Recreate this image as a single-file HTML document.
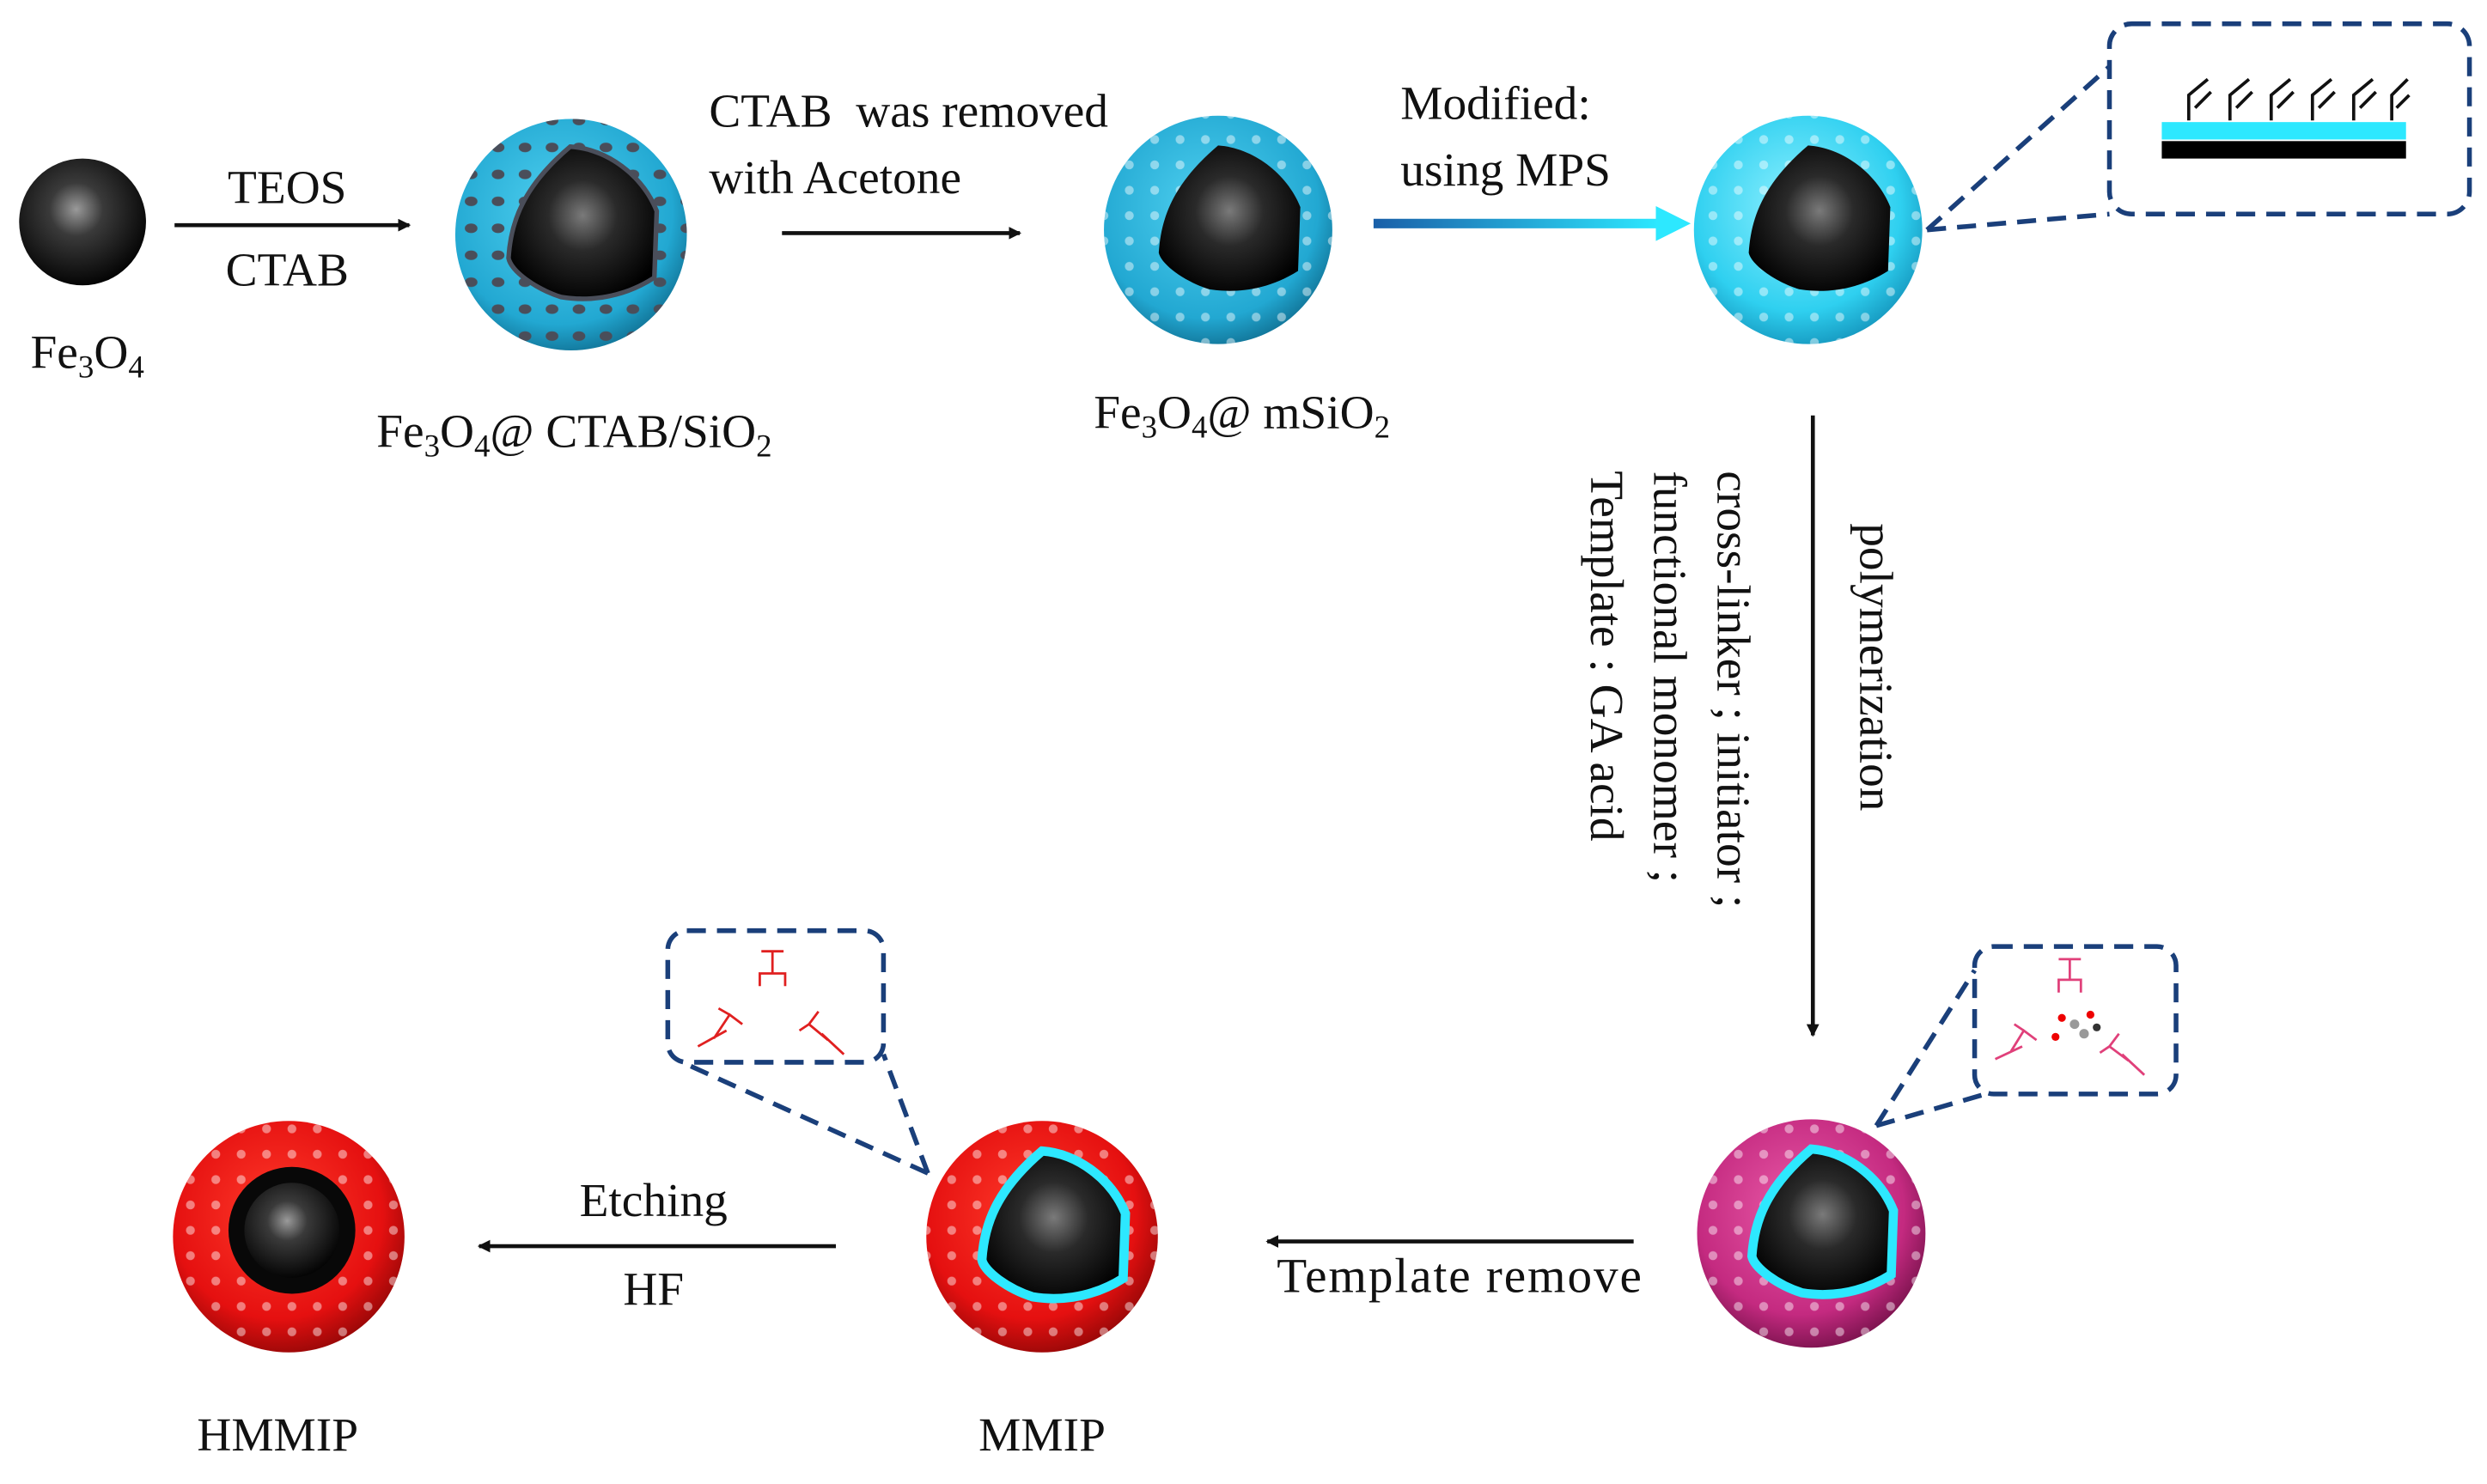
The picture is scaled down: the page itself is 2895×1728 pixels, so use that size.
<!DOCTYPE html>
<html><head><meta charset="utf-8"><style>
html,body{margin:0;padding:0;background:#fff;}
svg{display:block;}
text{font-family:"Liberation Serif",serif;fill:#111;}
</style></head><body>
<svg width="2895" height="1728" viewBox="0 0 1568 936" xmlns="http://www.w3.org/2000/svg">
<defs>
<radialGradient id="blk" cx="0.45" cy="0.4" r="0.6">
<stop offset="0" stop-color="#9a9a9a"/><stop offset="0.35" stop-color="#3a3a3a"/><stop offset="1" stop-color="#050505"/></radialGradient>
<radialGradient id="core" cx="0.5" cy="0.45" r="0.6">
<stop offset="0" stop-color="#7a7a7a"/><stop offset="0.4" stop-color="#2a2a2a"/><stop offset="1" stop-color="#000"/></radialGradient>
<radialGradient id="blue" cx="0.45" cy="0.4" r="0.65">
<stop offset="0" stop-color="#4fd0f0"/><stop offset="0.75" stop-color="#22a8d2"/><stop offset="1" stop-color="#0e6a8c"/></radialGradient>
<radialGradient id="cyan" cx="0.45" cy="0.4" r="0.65">
<stop offset="0" stop-color="#8ef0ff"/><stop offset="0.7" stop-color="#2fd0f0"/><stop offset="1" stop-color="#1290b8"/></radialGradient>
<radialGradient id="mag" cx="0.45" cy="0.4" r="0.65">
<stop offset="0" stop-color="#ea5ba8"/><stop offset="0.7" stop-color="#c42a80"/><stop offset="1" stop-color="#6e0f45"/></radialGradient>
<radialGradient id="red" cx="0.45" cy="0.4" r="0.65">
<stop offset="0" stop-color="#ff3a2a"/><stop offset="0.7" stop-color="#e51010"/><stop offset="1" stop-color="#8a0606"/></radialGradient>
<linearGradient id="arr" x1="0" x2="1"><stop offset="0" stop-color="#1a5fa8"/><stop offset="1" stop-color="#2de8ff"/></linearGradient>
<marker id="ah" markerWidth="8" markerHeight="8" refX="7" refY="4" orient="auto" markerUnits="userSpaceOnUse"><path d="M0,0 L8,4 L0,8 z" fill="#111"/></marker>
<pattern id="dotsD" width="17" height="17" patternUnits="userSpaceOnUse"><ellipse cx="8" cy="8" rx="4" ry="3" fill="#4a4e5a"/></pattern>
<pattern id="dotsL" width="16" height="16" patternUnits="userSpaceOnUse"><circle cx="8" cy="8" r="2.8" fill="#ffffff" opacity="0.45"/></pattern>
<path id="cs" d="M0,-0.74 C0.3,-0.72 0.6,-0.5 0.72,-0.2 L0.7,0.36 C0.4,0.55 0.1,0.55 -0.08,0.52 C-0.3,0.45 -0.5,0.3 -0.52,0.2 C-0.5,-0.1 -0.4,-0.4 0,-0.74 Z"/>
</defs>

<!-- Fe3O4 -->
<circle cx="52" cy="140" r="40" fill="url(#blk)"/>
<text x="55" y="232" font-size="30" text-anchor="middle">Fe<tspan font-size="20" dy="6">3</tspan><tspan dy="-6">O</tspan><tspan font-size="20" dy="6">4</tspan></text>
<line x1="110" y1="142" x2="258" y2="142" stroke="#111" stroke-width="2.5" marker-end="url(#ah)"/>
<text x="181" y="128" font-size="30" text-anchor="middle">TEOS</text>
<text x="181" y="180" font-size="30" text-anchor="middle">CTAB</text>

<!-- sphere 2 -->
<circle cx="360" cy="148" r="73" fill="url(#blue)"/>
<circle cx="360" cy="148" r="73" fill="url(#dotsD)"/>
<g transform="translate(360,148) scale(73)"><use href="#cs" fill="#4a4e5a" stroke="#4a4e5a" stroke-width="0.08"/><use href="#cs" fill="url(#core)"/></g>
<text x="362" y="282" font-size="30" text-anchor="middle">Fe<tspan font-size="20" dy="6">3</tspan><tspan dy="-6">O</tspan><tspan font-size="20" dy="6">4</tspan><tspan dy="-6">@ CTAB/SiO</tspan><tspan font-size="20" dy="6">2</tspan></text>

<text x="447" y="80" font-size="30" xml:space="preserve">CTAB  was removed</text>
<text x="447" y="122" font-size="30">with Acetone</text>
<line x1="493" y1="147" x2="643" y2="147" stroke="#111" stroke-width="2.5" marker-end="url(#ah)"/>

<!-- sphere 3 -->
<circle cx="768" cy="145" r="72" fill="url(#blue)"/>
<circle cx="768" cy="145" r="72" fill="url(#dotsL)"/>
<g transform="translate(768,145) scale(72)"><use href="#cs" fill="url(#core)"/></g>
<text x="783" y="270" font-size="30" text-anchor="middle">Fe<tspan font-size="20" dy="6">3</tspan><tspan dy="-6">O</tspan><tspan font-size="20" dy="6">4</tspan><tspan dy="-6">@ mSiO</tspan><tspan font-size="20" dy="6">2</tspan></text>

<text x="883" y="75" font-size="30">Modified:</text>
<text x="883" y="117" font-size="30">using MPS</text>
<rect x="866" y="138" width="180" height="6" fill="url(#arr)"/>
<path d="M1044,130 L1066,141 L1044,152 Z" fill="#2de8ff"/>

<!-- sphere 4 -->
<circle cx="1140" cy="145" r="72" fill="url(#cyan)"/>
<circle cx="1140" cy="145" r="72" fill="url(#dotsL)"/>
<g transform="translate(1140,145) scale(72)"><use href="#cs" fill="url(#core)"/></g>
<rect x="1330" y="15" width="227" height="120" rx="14" fill="none" stroke="#1a3f7a" stroke-width="3" stroke-dasharray="12,7"/>
<line x1="1215" y1="145" x2="1330" y2="42" stroke="#1a3f7a" stroke-width="3" stroke-dasharray="12,7"/>
<line x1="1215" y1="145" x2="1330" y2="135" stroke="#1a3f7a" stroke-width="3" stroke-dasharray="12,7"/>
<rect x="1363" y="77" width="154" height="11" fill="#2de8ff"/>
<rect x="1363" y="89" width="154" height="11" fill="#000"/>
<g stroke="#111" stroke-width="2" fill="none">
<path d="M1380,76 L1380,60 L1392,50 M1384,68 L1394,58"/>
<path d="M1406,76 L1406,60 L1418,50 M1410,68 L1420,58"/>
<path d="M1432,76 L1432,60 L1444,50 M1436,68 L1446,58"/>
<path d="M1458,76 L1458,60 L1470,50 M1462,68 L1472,58"/>
<path d="M1484,76 L1484,60 L1496,50 M1488,68 L1498,58"/>
<path d="M1508,76 L1508,60 L1518,50 M1511,68 L1519,60"/>
</g>

<!-- vertical arrow -->
<line x1="1143" y1="262" x2="1143" y2="653" stroke="#111" stroke-width="2.5" marker-end="url(#ah)"/>
<text font-size="30" transform="translate(1173,330) rotate(90)">polymerization</text>
<text font-size="30" transform="translate(1083,297) rotate(90)">cross-linker ; initiator ;</text>
<text font-size="30" transform="translate(1043,297) rotate(90)">functional monomer ;</text>
<text font-size="30" transform="translate(1003,297) rotate(90)">Template : GA acid</text>

<!-- magenta sphere -->
<circle cx="1142" cy="778" r="72" fill="url(#mag)"/>
<circle cx="1142" cy="778" r="72" fill="url(#dotsL)"/>
<g transform="translate(1142,778) scale(72)"><use href="#cs" fill="url(#core)" stroke="#2de8ff" stroke-width="0.08"/></g>
<rect x="1245" y="597" width="127" height="93" rx="12" fill="none" stroke="#1a3f7a" stroke-width="3" stroke-dasharray="12,7"/>
<line x1="1183" y1="710" x2="1245" y2="612" stroke="#1a3f7a" stroke-width="3" stroke-dasharray="12,7"/>
<line x1="1183" y1="710" x2="1252" y2="690" stroke="#1a3f7a" stroke-width="3" stroke-dasharray="12,7"/>
<g stroke="#e0407a" stroke-width="1.5" fill="none">
<path d="M1298,605 L1312,605 M1305,605 L1305,618 L1298,618 L1298,626 M1305,618 L1312,618 L1312,626"/>
<path d="M1258,668 L1275,660 M1268,663 L1276,650 L1284,656 M1276,650 L1270,646"/>
<path d="M1352,678 L1338,665 M1342,669 L1330,660 L1336,652 M1330,660 L1324,664"/>
</g>
<g><circle cx="1300" cy="642" r="2.5" fill="#e00"/><circle cx="1318" cy="640" r="2.5" fill="#e00"/><circle cx="1296" cy="654" r="2.5" fill="#e00"/><circle cx="1308" cy="646" r="3" fill="#999"/><circle cx="1314" cy="652" r="3" fill="#999"/><circle cx="1322" cy="648" r="2.5" fill="#333"/></g>

<line x1="1030" y1="783" x2="799" y2="783" stroke="#111" stroke-width="2.5" marker-end="url(#ah)"/>
<text x="920" y="815" font-size="31" text-anchor="middle" textLength="230">Template remove</text>

<!-- MMIP -->
<circle cx="657" cy="780" r="73" fill="url(#red)"/>
<circle cx="657" cy="780" r="73" fill="url(#dotsL)"/>
<g transform="translate(657,780) scale(73)"><use href="#cs" fill="url(#core)" stroke="#2de8ff" stroke-width="0.08"/></g>
<rect x="421" y="587" width="136" height="83" rx="12" fill="none" stroke="#1a3f7a" stroke-width="3" stroke-dasharray="12,7"/>
<line x1="585" y1="740" x2="430" y2="670" stroke="#1a3f7a" stroke-width="3" stroke-dasharray="12,7"/>
<line x1="585" y1="740" x2="557" y2="665" stroke="#1a3f7a" stroke-width="3" stroke-dasharray="12,7"/>
<g stroke="#e02020" stroke-width="1.5" fill="none">
<path d="M480,600 L494,600 M487,600 L487,614 L479,614 L479,622 M487,614 L495,614 L495,622"/>
<path d="M440,660 L458,650 M450,655 L460,640 L468,646 M460,640 L453,636"/>
<path d="M532,665 L518,652 M522,656 L510,646 L516,638 M510,646 L504,650"/>
</g>

<line x1="527" y1="786" x2="302" y2="786" stroke="#111" stroke-width="2.5" marker-end="url(#ah)"/>
<text x="412" y="767" font-size="30" text-anchor="middle">Etching</text>
<text x="412" y="823" font-size="30" text-anchor="middle">HF</text>

<!-- HMMIP -->
<circle cx="182" cy="780" r="73" fill="url(#red)"/>
<circle cx="182" cy="780" r="73" fill="url(#dotsL)"/>
<circle cx="184" cy="776" r="40" fill="#080808"/>
<circle cx="184" cy="776" r="30" fill="url(#blk)"/>

<text x="657" y="915" font-size="30" text-anchor="middle">MMIP</text>
<text x="175" y="915" font-size="30" text-anchor="middle">HMMIP</text>
</svg>
</body></html>
